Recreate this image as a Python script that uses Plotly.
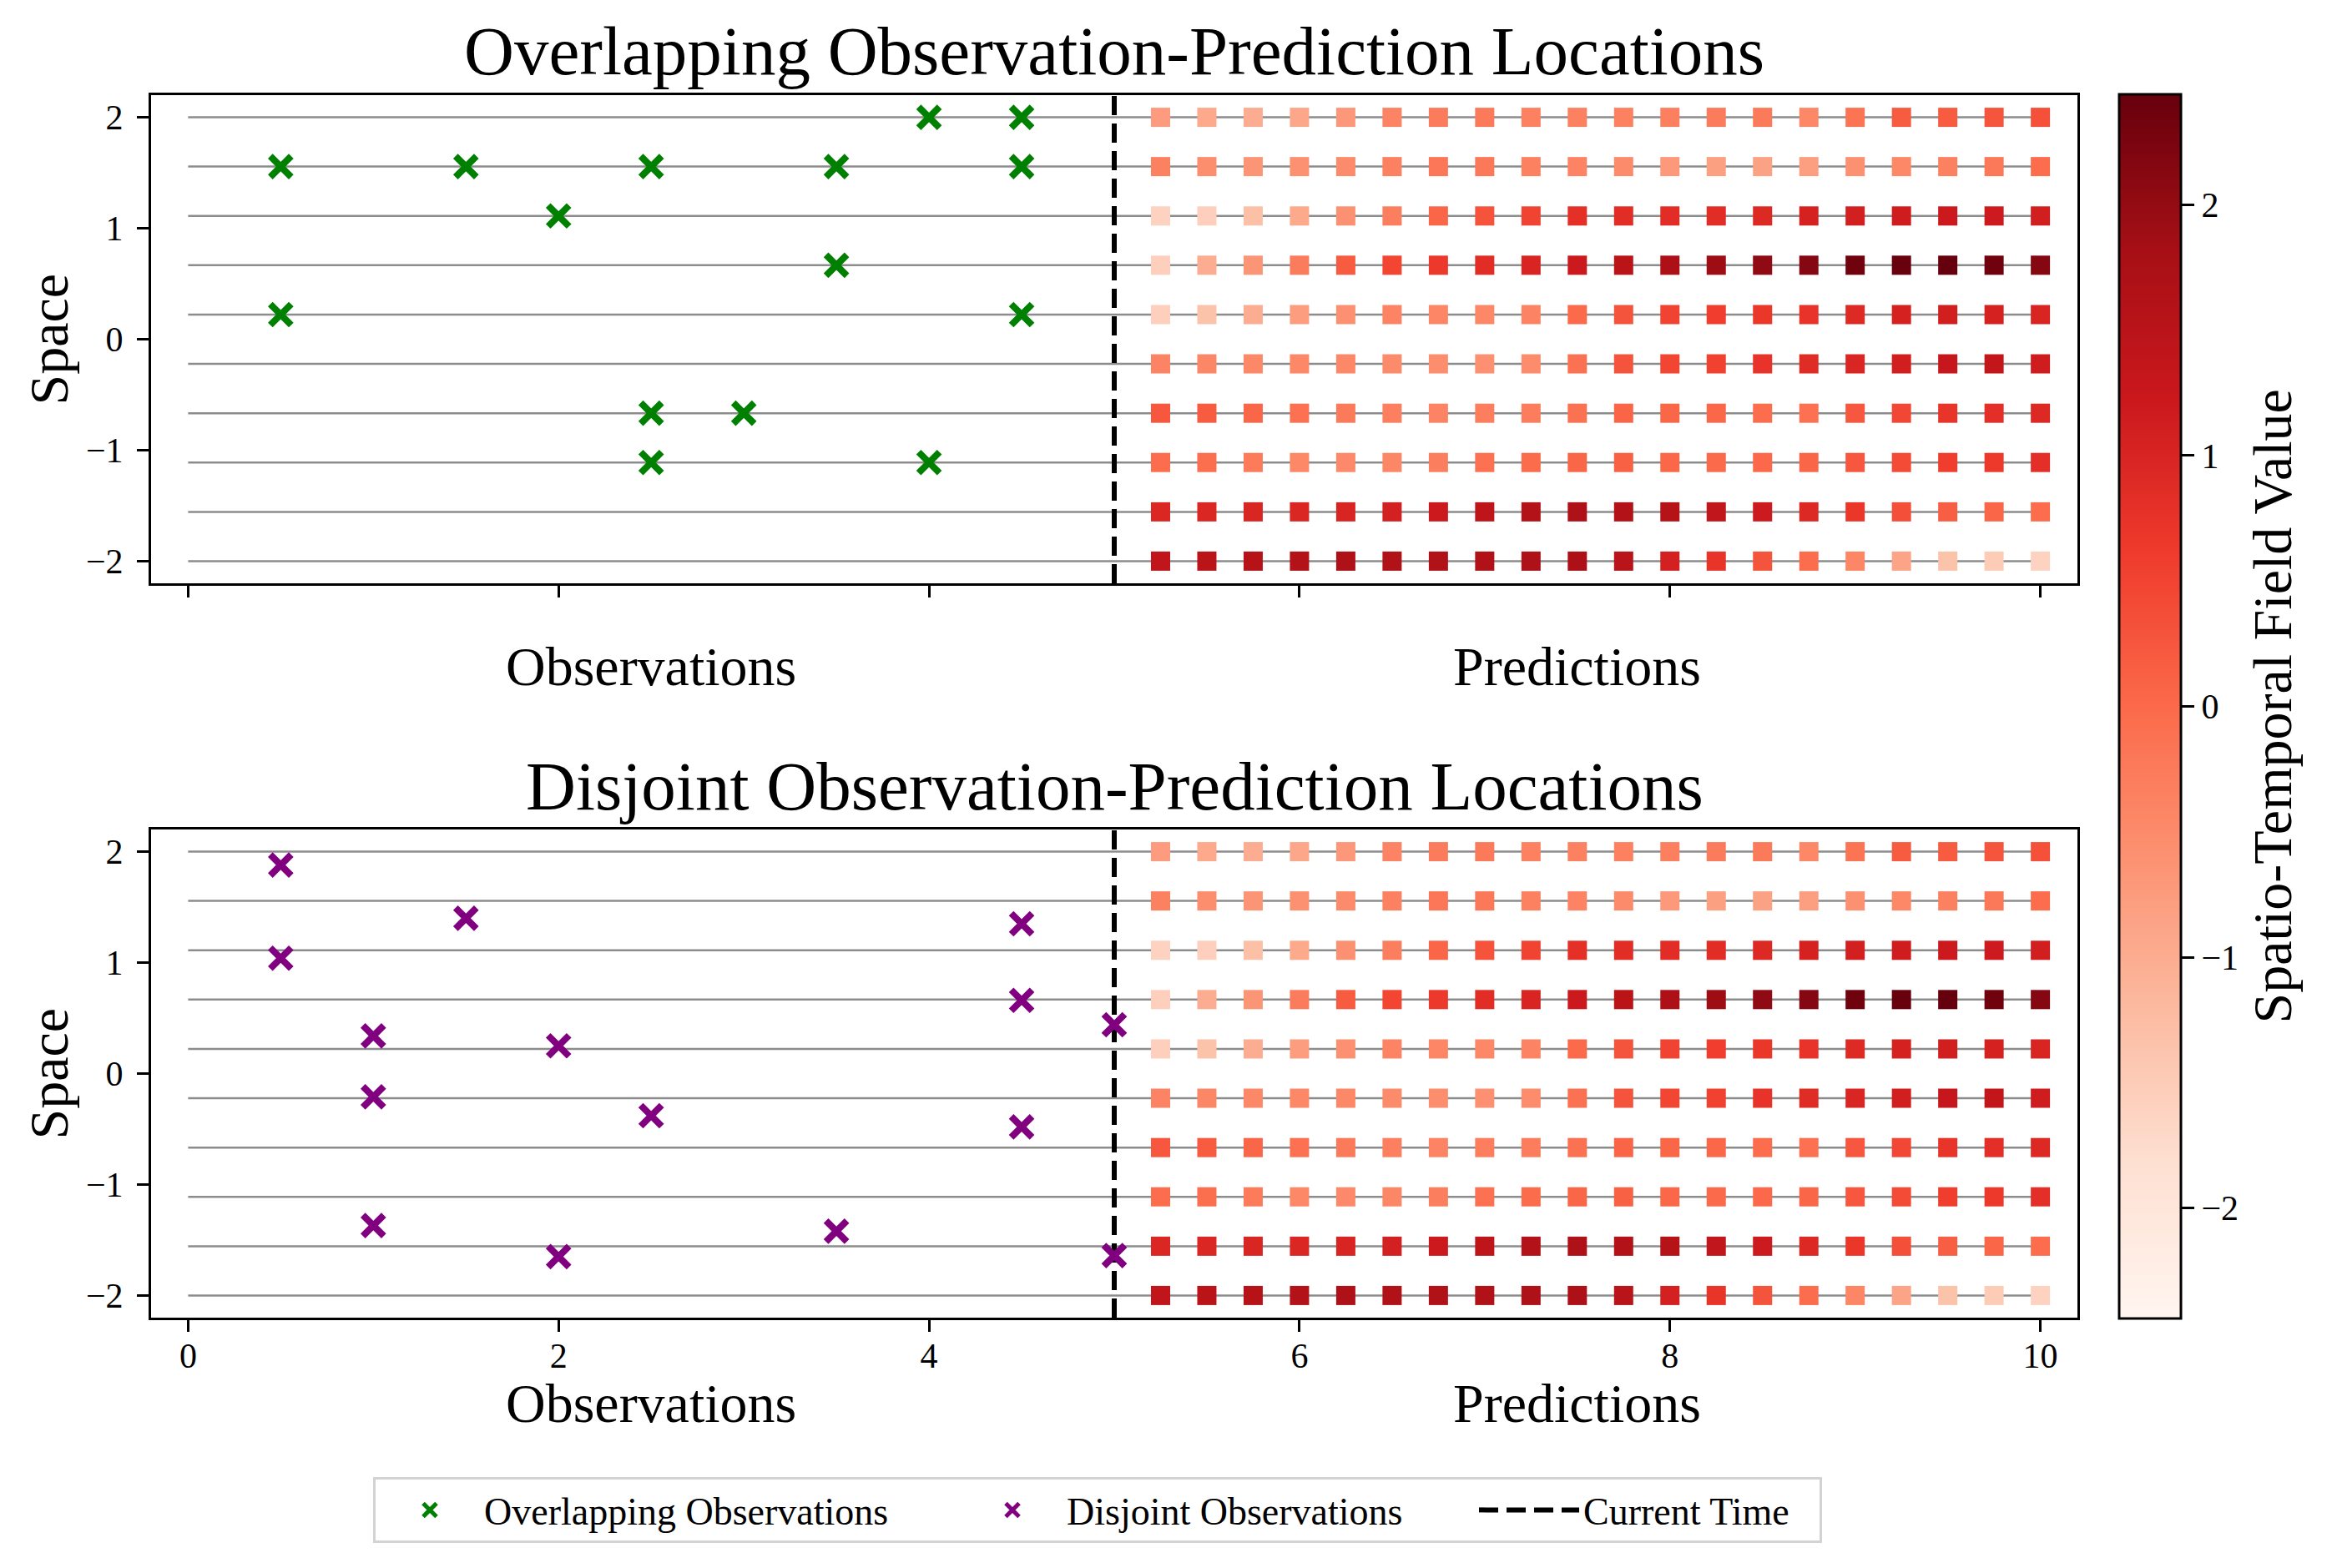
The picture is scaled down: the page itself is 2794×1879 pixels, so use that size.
import plotly.graph_objects as go

FIG_W, FIG_H = 2794, 1879
FONT = "Liberation Serif, Times New Roman, serif"

# ---------------- data ----------------
SPACE_LEVELS = [-2.0, -1.556, -1.111, -0.667, -0.222, 0.222, 0.667, 1.111, 1.556, 2.0]
PRED_TIMES = [5.25, 5.5, 5.75, 6.0, 6.25, 6.5, 6.75, 7.0, 7.25, 7.5,
              7.75, 8.0, 8.25, 8.5, 8.75, 9.0, 9.25, 9.5, 9.75, 10.0]
TIME_START = 0.0
TIME_END = 10.0
CURRENT_TIME = 5.0

# field value at prediction locations, one list per space level (bottom -> top)
FIELD_S_M2000 = [1.40, 1.50, 1.55, 1.62, 1.68, 1.65, 1.65, 1.65, 1.68, 1.70,
                 1.52, 1.08, 0.72, 0.28, -0.05, -0.42, -0.88, -1.35, -1.50, -1.60]
FIELD_S_M1556 = [0.95, 0.95, 0.97, 0.95, 1.00, 1.08, 1.20, 1.45, 1.60, 1.68,
                 1.60, 1.55, 1.38, 1.18, 0.93, 0.68, 0.35, 0.15, 0.05, -0.05]
FIELD_S_M1111 = [-0.04, -0.06, -0.26, -0.45, -0.48, -0.44, -0.30, -0.10, -0.03, 0.04,
                 0.12, 0.03, 0.00, 0.01, 0.04, 0.25, 0.40, 0.58, 0.65, 0.82]
FIELD_S_M0667 = [0.25, 0.20, 0.05, -0.10, -0.25, -0.34, -0.38, -0.31, -0.29, -0.12,
                 0.07, 0.05, 0.02, -0.04, -0.10, 0.25, 0.45, 0.72, 0.82, 0.92]
FIELD_S_M0222 = [-0.40, -0.44, -0.46, -0.46, -0.46, -0.50, -0.55, -0.58, -0.52, -0.12,
                 0.28, 0.48, 0.52, 0.75, 0.88, 0.98, 1.12, 1.30, 1.35, 1.15]
FIELD_S_P0222 = [-1.55, -1.35, -1.00, -0.78, -0.60, -0.40, -0.42, -0.45, -0.40, 0.00,
                 0.28, 0.50, 0.58, 0.68, 0.75, 0.90, 1.05, 1.12, 1.05, 1.00]
FIELD_S_P0667 = [-1.55, -1.00, -0.65, -0.28, 0.20, 0.48, 0.65, 0.85, 1.00, 1.21,
                 1.50, 1.70, 1.90, 2.05, 2.15, 2.35, 2.42, 2.44, 2.35, 2.15]
FIELD_S_P1111 = [-1.60, -1.55, -1.30, -0.95, -0.60, -0.30, 0.05, 0.30, 0.50, 0.80,
                 0.85, 0.85, 0.85, 0.92, 1.05, 1.10, 1.15, 1.20, 1.18, 1.12]
FIELD_S_P1556 = [-0.35, -0.55, -0.65, -0.60, -0.50, -0.35, -0.20, -0.22, -0.35, -0.40,
                 -0.50, -0.72, -0.82, -0.85, -0.80, -0.60, -0.45, -0.35, -0.22, -0.05]
FIELD_S_P2000 = [-0.75, -0.95, -1.00, -0.92, -0.70, -0.40, -0.28, -0.25, -0.35, -0.35,
                 -0.35, -0.32, -0.28, -0.25, -0.45, -0.15, 0.20, 0.20, 0.27, 0.32]
FIELD_ROWS = [FIELD_S_M2000, FIELD_S_M1556, FIELD_S_M1111, FIELD_S_M0667, FIELD_S_M0222,
              FIELD_S_P0222, FIELD_S_P0667, FIELD_S_P1111, FIELD_S_P1556, FIELD_S_P2000]
FIELD_MIN, FIELD_MAX = -2.44, 2.44

OVERLAP_T = [0.5, 1.5, 2.5, 3.5, 4.5, 4.0, 4.5, 2.0, 3.5, 0.5, 4.5, 2.5, 3.0, 2.5, 4.0]
OVERLAP_S = [1.556, 1.556, 1.556, 1.556, 1.556, 2.0, 2.0, 1.111, 0.667, 0.222, 0.222,
             -0.667, -0.667, -1.111, -1.111]

DISJOINT_T = [0.5, 0.5, 1.5, 4.5, 4.5, 5.0, 1.0, 2.0, 1.0, 2.5, 4.5, 1.0, 3.5, 2.0, 5.0]
DISJOINT_S = [1.88, 1.04, 1.40, 1.35, 0.66, 0.44, 0.34, 0.25, -0.21, -0.38, -0.48,
              -1.37, -1.42, -1.65, -1.64]

X_TICKS = [0, 2, 4, 6, 8, 10]
Y_TICKS = [-2, -1, 0, 1, 2]
CBAR_TICKS = [-2, -1, 0, 1, 2]
X_RANGE = [-0.2, 10.2]
Y_RANGE = [-2.2, 2.2]

TITLES = ["Overlapping Observation-Prediction Locations",
          "Disjoint Observation-Prediction Locations"]

REDS = [[0.0, "#fff5f0"], [0.125, "#fee0d2"], [0.25, "#fcbba1"], [0.375, "#fc9272"],
        [0.5, "#fb6a4a"], [0.625, "#ef3b2c"], [0.75, "#cb181d"], [0.875, "#a50f15"],
        [1.0, "#67000d"]]

# ---------------- derived grid ----------------
grid_x, grid_y, grid_c = [], [], []
for s, row in zip(SPACE_LEVELS, FIELD_ROWS):
    for t, v in zip(PRED_TIMES, row):
        grid_x.append(t)
        grid_y.append(s)
        grid_c.append(v)

hl_x, hl_y = [], []
for s in SPACE_LEVELS:
    hl_x += [TIME_START, TIME_END, None]
    hl_y += [s, s, None]

fig = go.Figure()

def px_x(p):
    return p / FIG_W

def px_y(p):
    return 1 - p / FIG_H

panels = [
    dict(xa="x", ya="y", obs_t=OVERLAP_T, obs_s=OVERLAP_S, color="green",
         name="Overlapping Observations", rank=1, lw=563, vline_legend=True),
    dict(xa="x2", ya="y2", obs_t=DISJOINT_T, obs_s=DISJOINT_S, color="purple",
         name="Disjoint Observations", rank=2, lw=484, vline_legend=False),
]

for i, p in enumerate(panels):
    fig.add_trace(go.Scatter(x=hl_x, y=hl_y, mode="lines", xaxis=p["xa"], yaxis=p["ya"],
                             line=dict(color="rgba(128,128,128,0.9)", width=2.5),
                             showlegend=False, hoverinfo="skip"))
    fig.add_trace(go.Scatter(x=[CURRENT_TIME, CURRENT_TIME], y=Y_RANGE, mode="lines",
                             xaxis=p["xa"], yaxis=p["ya"], name="Current Time",
                             line=dict(color="black", width=6, dash="23px,10px"),
                             showlegend=p["vline_legend"], legendrank=3, legendwidth=278))
    fig.add_trace(go.Scatter(x=grid_x, y=grid_y, mode="markers", xaxis=p["xa"], yaxis=p["ya"],
                             marker=dict(symbol="square", size=23, color=grid_c,
                                         coloraxis="coloraxis", line=dict(width=0)),
                             showlegend=False))
    fig.add_trace(go.Scatter(x=p["obs_t"], y=p["obs_s"], mode="markers",
                             xaxis=p["xa"], yaxis=p["ya"], name=p["name"], legendrank=p["rank"],
                             legendwidth=p["lw"],
                             marker=dict(symbol="x-thin", size=25, color=p["color"],
                                         line=dict(color=p["color"], width=8))))

x_dom = [px_x(181), px_x(2489)]
top_dom = [px_y(699), px_y(114)]
bot_dom = [px_y(1579), px_y(994)]

axis_common = dict(showline=True, mirror=True, linecolor="black", linewidth=3,
                   ticks="outside", ticklen=14, tickwidth=3, tickcolor="black",
                   showgrid=False, zeroline=False,
                   tickfont=dict(family=FONT, size=42, color="black"))

fig.update_layout(
    width=FIG_W, height=FIG_H,
    margin=dict(l=0, r=0, t=0, b=0),
    paper_bgcolor="white", plot_bgcolor="white",
    font=dict(family=FONT, color="black"),
    xaxis=dict(domain=x_dom, range=X_RANGE, tickvals=X_TICKS, showticklabels=False,
               anchor="y", **axis_common),
    yaxis=dict(domain=top_dom, range=Y_RANGE, tickvals=Y_TICKS, anchor="x",
               ticklabelstandoff=8, **axis_common),
    xaxis2=dict(domain=x_dom, range=X_RANGE, tickvals=X_TICKS, anchor="y2",
                ticklabelstandoff=-7, **axis_common),
    yaxis2=dict(domain=bot_dom, range=Y_RANGE, tickvals=Y_TICKS, anchor="x2",
                ticklabelstandoff=8, **axis_common),
    coloraxis=dict(
        colorscale=REDS, cmin=FIELD_MIN, cmax=FIELD_MAX,
        colorbar=dict(x=px_x(2539), xanchor="left", xpad=0, ypad=0,
                      y=px_y(846.5), yanchor="middle", len=1467, lenmode="pixels",
                      thickness=74, thicknessmode="pixels",
                      outlinewidth=3, outlinecolor="black",
                      tickvals=CBAR_TICKS, ticks="outside", ticklen=15, tickwidth=3,
                      tickcolor="black",
                      tickfont=dict(family=FONT, size=42, color="black")),
    ),
    showlegend=True,
    legend=dict(orientation="h", x=px_x(447), xanchor="left", y=px_y(1770), yanchor="top",
                font=dict(family=FONT, size=46, color="black"),
                bordercolor="#d3d3d3", borderwidth=3, bgcolor="white",
                itemwidth=120, traceorder="normal"),
)

ann = []
for title, yc in zip(TITLES, [61, 942]):
    ann.append(dict(text=title, x=px_x(1335), y=px_y(yc), xref="paper", yref="paper",
                    showarrow=False, xanchor="center", yanchor="middle",
                    font=dict(family=FONT, size=83, color="black")))
for yc in [406.5, 1286.5]:
    ann.append(dict(text="Space", x=px_x(58), y=px_y(yc), xref="paper", yref="paper",
                    showarrow=False, textangle=-90, xanchor="center", yanchor="middle",
                    font=dict(family=FONT, size=66, color="black")))
for xr, yc in [("x", 798), ("x2", 1681)]:
    ann.append(dict(text="Observations", x=(TIME_START + CURRENT_TIME) / 2, y=px_y(yc),
                    xref=xr, yref="paper", showarrow=False, xanchor="center", yanchor="middle",
                    font=dict(family=FONT, size=66, color="black")))
    ann.append(dict(text="Predictions", x=(CURRENT_TIME + TIME_END) / 2, y=px_y(yc),
                    xref=xr, yref="paper", showarrow=False, xanchor="center", yanchor="middle",
                    font=dict(family=FONT, size=66, color="black")))
ann.append(dict(text="Spatio-Temporal Field Value", x=px_x(2722), y=px_y(846.5),
                xref="paper", yref="paper", showarrow=False, textangle=-90,
                xanchor="center", yanchor="middle",
                font=dict(family=FONT, size=66, color="black")))
fig.update_layout(annotations=ann)

fig.write_html("out.html")
